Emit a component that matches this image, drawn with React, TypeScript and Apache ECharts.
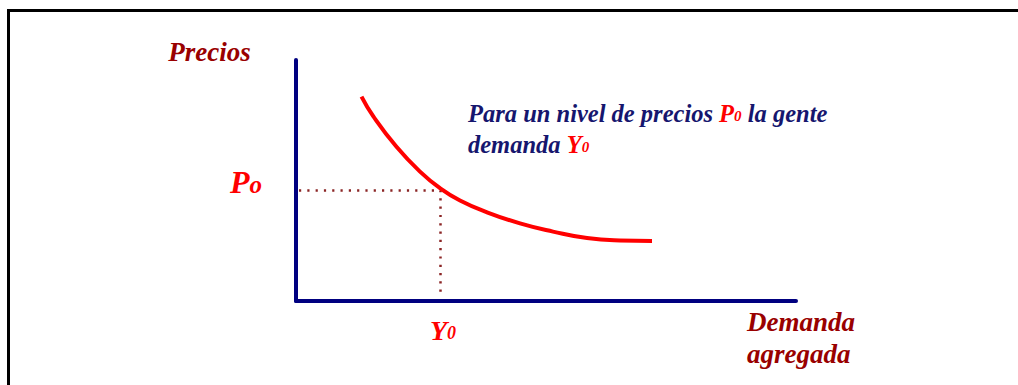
import React, { useEffect, useRef } from "react";
import * as echarts from "echarts";

// Demand curve points (x = aggregate demand, y = price level)
const curveX = [13.1, 15.5, 20.1, 24.8, 28.8, 32.8, 38.1, 44.8, 51.4, 58.2, 64.8, 71.2];
const curveY = [84.8, 76.5, 64.0, 53.7, 46.8, 41.7, 36.9, 32.2, 28.8, 26.1, 25.1, 24.9];

// Reference point (Y0, P0)
const refX = 28.9;
const refY = 45.9;
const guideStartX = 0.6;
const guideEndY = 2.5;

// Texts
const yAxisName = "Precios";
const xAxisName = ["Demanda", "agregada"];
const noteLine1 = ["Para un nivel de precios ", "P", "0", " la gente"];
const noteLine2 = ["demanda ", "Y", "0"];
const pLabel = ["P", "o"];
const yLabel = ["Y", "0"];

const FONT = "'Liberation Serif', 'Times New Roman', serif";
const NAVY = "#000080";
const TEXT_NAVY = "#16166e";
const DARK_RED = "#990000";
const RED = "#ff0000";

export default function App() {
  const ref = useRef<HTMLDivElement>(null);
  useEffect(() => {
    if (!ref.current) return;
    const chart = echarts.init(ref.current, null, { renderer: "svg" });
    const baseText = {
      fontFamily: FONT,
      fontWeight: "bold",
      fontStyle: "italic",
    };
    chart.setOption({
      animation: false,
      backgroundColor: "#ffffff",
      grid: { left: 296, top: 60, right: 222, bottom: 84 },
      xAxis: {
        type: "value",
        min: 0,
        max: 100,
        axisLine: { show: true, lineStyle: { color: NAVY, width: 4 } },
        axisTick: { show: false },
        axisLabel: { show: false },
        splitLine: { show: false },
      },
      yAxis: {
        type: "value",
        min: 0,
        max: 100,
        axisLine: { show: true, lineStyle: { color: NAVY, width: 4 } },
        axisTick: { show: false },
        axisLabel: { show: false },
        splitLine: { show: false },
      },
      series: [
        {
          type: "line",
          data: [
            [guideStartX, refY],
            [refX, refY],
            [refX, guideEndY],
          ],
          showSymbol: false,
          lineStyle: { color: "#8b2525", width: 2.5, type: [2.2, 6.1] },
          z: 1,
        },
        {
          type: "line",
          smooth: 0.5,
          data: curveX.map((x, i) => [x, curveY[i]]),
          showSymbol: false,
          lineStyle: { color: RED, width: 4 },
          z: 2,
        },
      ],
      graphic: [
        {
          type: "polyline",
          shape: { points: [[8.5, 385], [8.5, 10.5], [1018, 10.5]] },
          style: { stroke: "#000000", lineWidth: 3, fill: null },
          silent: true,
        },
        {
          type: "text",
          x: 209.5,
          y: 52,
          style: {
            text: yAxisName,
            ...baseText,
            fontSize: 27,
            fill: DARK_RED,
            textAlign: "center",
            textVerticalAlign: "middle",
          },
        },
        {
          type: "text",
          x: 747,
          y: 322,
          style: {
            text: xAxisName[0],
            ...baseText,
            fontSize: 27,
            fill: DARK_RED,
            textAlign: "left",
            textVerticalAlign: "middle",
          },
        },
        {
          type: "text",
          x: 747,
          y: 354,
          style: {
            text: xAxisName[1],
            ...baseText,
            fontSize: 27,
            fill: DARK_RED,
            textAlign: "left",
            textVerticalAlign: "middle",
          },
        },
        {
          type: "text",
          x: 468,
          y: 113,
          style: {
            text: `{n|${noteLine1[0]}}{r|${noteLine1[1]}}{s|${noteLine1[2]}}{n|${noteLine1[3]}}`,
            ...baseText,
            fontSize: 24.5,
            textAlign: "left",
            textVerticalAlign: "middle",
            rich: {
              n: { ...baseText, fontSize: 24.5, fill: TEXT_NAVY, height: 28, verticalAlign: "bottom" },
              r: { ...baseText, fontSize: 24.5, fill: RED, height: 28, verticalAlign: "bottom" },
              s: { ...baseText, fontSize: 15, fill: RED, height: 23, verticalAlign: "bottom" },
            },
          },
        },
        {
          type: "text",
          x: 468,
          y: 144,
          style: {
            text: `{n|${noteLine2[0]}}{r|${noteLine2[1]}}{s|${noteLine2[2]}}`,
            ...baseText,
            fontSize: 24.5,
            textAlign: "left",
            textVerticalAlign: "middle",
            rich: {
              n: { ...baseText, fontSize: 24.5, fill: TEXT_NAVY, height: 28, verticalAlign: "bottom" },
              r: { ...baseText, fontSize: 24.5, fill: RED, height: 28, verticalAlign: "bottom" },
              s: { ...baseText, fontSize: 15, fill: RED, height: 23, verticalAlign: "bottom" },
            },
          },
        },
        {
          type: "text",
          x: 230,
          y: 182,
          style: {
            text: `{a|${pLabel[0]}}{b|${pLabel[1]}}`,
            ...baseText,
            fontSize: 32,
            textAlign: "left",
            textVerticalAlign: "middle",
            rich: {
              a: { ...baseText, fontSize: 32, fill: RED, height: 34, verticalAlign: "bottom" },
              b: { ...baseText, fontSize: 25, fill: RED, height: 30, verticalAlign: "bottom" },
            },
          },
        },
        {
          type: "text",
          x: 430,
          y: 330,
          style: {
            text: `{a|${yLabel[0]}}{b|${yLabel[1]}}`,
            ...baseText,
            fontSize: 28,
            textAlign: "left",
            textVerticalAlign: "middle",
            rich: {
              a: { ...baseText, fontSize: 28, fill: RED, height: 30, verticalAlign: "bottom" },
              b: { ...baseText, fontSize: 18, fill: RED, height: 24, verticalAlign: "bottom" },
            },
          },
        },
      ],
    });
    return () => chart.dispose();
  }, []);
  return (
    <div
      ref={ref}
      style={{ position: "fixed", left: 0, top: 0, width: 1018, height: 385, background: "#fff" }}
    />
  );
}
